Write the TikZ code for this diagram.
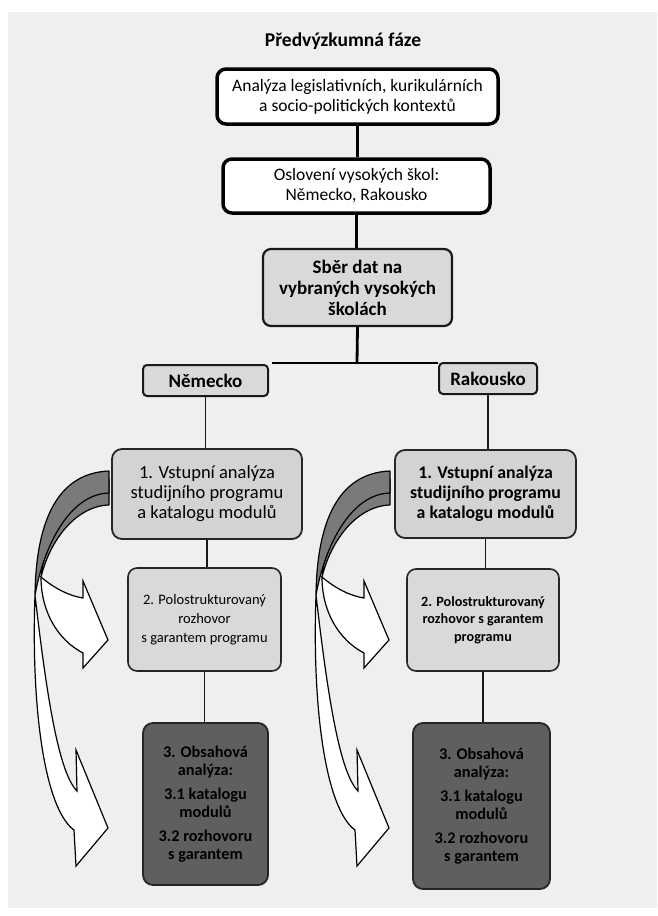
\documentclass[tikz,border=0pt]{standalone}
\usepackage{fontspec}
\setmainfont{Carlito}
\definecolor{panel}{HTML}{EFEFEF}
\definecolor{lightbox}{HTML}{D9D9D9}
\definecolor{midbox}{HTML}{D3D3D3}
\definecolor{darkbox}{HTML}{5F5F5F}
\definecolor{rearface}{HTML}{7A7A7A}
\begin{document}
\begin{tikzpicture}[x=1pt,y=-1pt,
  every node/.style={inner sep=0pt,align=center},
  whitebox/.style={draw=black,line width=3.5pt,rounded corners=9pt,fill=white,
    font=\fontsize{17.5}{20}\selectfont},
  graybox/.style={draw=black!90,line width=2.2pt,rounded corners=8pt,fill=lightbox,
    font=\bfseries\fontsize{19}{21}\selectfont},
  tagbox/.style={draw=black!90,line width=2pt,rounded corners=4pt,fill=lightbox,
    font=\bfseries\fontsize{19}{21}\selectfont},
  firstbox/.style={draw=black!85,line width=1.8pt,rounded corners=10pt,fill=midbox},
  secondbox/.style={draw=black!85,line width=1.6pt,rounded corners=9pt,fill=lightbox},
  thirdbox/.style={draw=black!85,line width=1.8pt,rounded corners=10pt,fill=darkbox,
    font=\bfseries\fontsize{16.3}{17.5}\selectfont},
  conn/.style={draw=black,line width=2.8pt},
  thinconn/.style={draw=black!90,line width=1.7pt},
  rear/.style={fill=rearface,draw=black,line width=1.2pt,line join=round},
  front/.style={fill=white,draw=black,line width=1.2pt,line join=miter}]

% page and panel
\useasboundingbox (0,0) rectangle (657,916);
\fill[white] (0,0) rectangle (657,916);
\fill[panel] (8,12) rectangle (657,908);

% curved arrows on both sides, leading from step 1 to steps 2 and 3
\foreach \dx in {0,281}{
  \begin{scope}[xshift=\dx pt]
    % rear faces of the two ribbons
    \path[rear] (109,479) .. controls (72,481) and (46,522) .. (41,577)
                .. controls (50,540) and (76,506) .. (109,505) -- cycle;
    \path[rear] (109,471) .. controls (58,473) and (36,520) .. (35,595)
                .. controls (44,545) and (70,494) .. (109,493) -- cycle;
    % short ribbon, front face with head
    \path[front] (41,577) .. controls (55,589) and (70,596) .. (83,598)
                 -- (83,581) -- (108,640) -- (83,668) -- (83,653)
                 .. controls (58,640) and (41,612) .. (41,577) -- cycle;
    % long ribbon, front face with head
    \path[front] (35,595) .. controls (46,690) and (58,772) .. (77,791)
                 -- (76,750) -- (108,828) -- (76,866) -- (74,830)
                 .. controls (44,808) and (31,705) .. (35,595) -- cycle;
  \end{scope}
}

% title
\node (title) at (343,41) {\bfseries\fontsize{19.5}{22}\selectfont Předvýzkumná fáze};

% upper chain
\node[whitebox,minimum width=281pt,minimum height=55pt] (A) at (357.5,96.5)
  {Analýza legislativních, kurikulárních\\a socio-politických kontextů};
\node[whitebox,minimum width=267pt,minimum height=54pt] (B) at (356.5,186)
  {Oslovení vysokých škol:\\Německo, Rakousko};
\node[graybox,minimum width=189pt,minimum height=77pt] (C) at (357.5,287.5)
  {Sběr dat na\\vybraných vysokých\\školách};

% country tags
\node[tagbox,minimum width=125pt,minimum height=31pt] (nem) at (205.5,380.5) {Německo};
\node[tagbox,minimum width=98pt,minimum height=31pt] (rak) at (488,378.5) {Rakousko};

% Německo branch
\node[firstbox,minimum width=190pt,minimum height=90pt,
  font=\fontsize{18.5}{20}\selectfont] (n1) at (207,494)
  {1. Vstupní analýza\\studijního programu\\a katalogu modulů};
\node[secondbox,minimum width=153pt,minimum height=103pt,
  font=\fontsize{14.5}{19}\selectfont] (n2) at (204.5,619.5)
  {2. Polostrukturovaný\\rozhovor\\s garantem programu};
\node[thirdbox,minimum width=125pt,minimum height=162pt] (n3) at (205.5,804)
  {3. Obsahová\\analýza:\\[7pt]3.1 katalogu\\modulů\\[7pt]3.2 rozhovoru\\s garantem};

% Rakousko branch
\node[firstbox,minimum width=181pt,minimum height=88pt,
  font=\bfseries\fontsize{17.8}{20}\selectfont] (r1) at (485.5,494)
  {1. Vstupní analýza\\studijního programu\\a katalogu modulů};
\node[secondbox,minimum width=152pt,minimum height=102pt,
  font=\bfseries\fontsize{14.2}{17.5}\selectfont] (r2) at (483,620)
  {2. Polostrukturovaný\\rozhovor s garantem\\programu};
\node[thirdbox,minimum width=137pt,minimum height=166pt] (r3) at (481.5,806)
  {3. Obsahová\\analýza:\\[7pt]3.1 katalogu\\modulů\\[7pt]3.2 rozhovoru\\s garantem};

% connectors
\coordinate (hl) at (357,363);
\draw[conn] (A.south) -- (A.south |- B.north);
\draw[conn] (B.south) -- (B.south |- C.north);
\draw[conn] (C.south) -- (hl);
\draw[conn,line width=2.4pt] (nem.north east |- hl) ++(3,0) -- (rak.north west |- hl);
\draw[thinconn] (nem.south) -- (nem.south |- n1.north);
\draw[thinconn] (n1.south) -- (n1.south |- n2.north);
\draw[thinconn] (n2.south) -- (n2.south |- n3.north);
\draw[thinconn] (rak.south) -- (rak.south |- r1.north);
\draw[thinconn] (r1.south) -- (r1.south |- r2.north);
\draw[thinconn] (r2.south) -- (r2.south |- r3.north);
\end{tikzpicture}
\end{document}
